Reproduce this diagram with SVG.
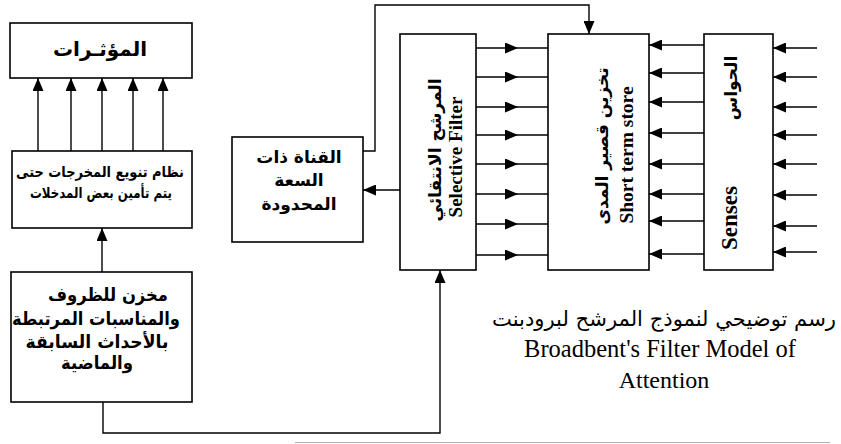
<svg xmlns="http://www.w3.org/2000/svg" width="841" height="444" viewBox="0 0 841 444">
<defs>
<marker id="ah" markerWidth="13" markerHeight="11" refX="13" refY="5.5" orient="auto" markerUnits="userSpaceOnUse">
<path d="M0,0 L13,5.5 L0,11 z" fill="#000"/>
</marker>
</defs>
<style>
.box{fill:#fff;stroke:#000;stroke-width:1.6}
.con{fill:none;stroke:#000;stroke-width:1.4}
.ar{font-family:"DejaVu Sans",sans-serif;font-weight:bold;fill:#000;text-anchor:middle}
.arr{font-family:"DejaVu Sans",sans-serif;fill:#000;text-anchor:middle}
.en{font-family:"Liberation Serif",serif;font-weight:bold;fill:#000;text-anchor:middle}
.cap{font-family:"Liberation Serif",serif;fill:#000;text-anchor:middle}
</style>
<rect width="841" height="444" fill="#fff"/>

<g id="connectors">
<g marker-end="url(#ah)">
<line class="con" x1="38" y1="151" x2="38" y2="78"/>
<line class="con" x1="71" y1="151" x2="71" y2="78"/>
<line class="con" x1="102" y1="151" x2="102" y2="78"/>
<line class="con" x1="133" y1="151" x2="133" y2="78"/>
<line class="con" x1="163" y1="151" x2="163" y2="78"/>
<line class="con" x1="102" y1="272" x2="102" y2="228"/>
<polyline class="con" points="103,402 103,433 440,433 440,270"/>
<line class="con" x1="400" y1="190" x2="363" y2="190"/>
<polyline class="con" points="363,151 375,151 375,5 589,5 589,34"/>
<line class="con" x1="704" y1="45" x2="649" y2="45"/>
<line class="con" x1="704" y1="73" x2="649" y2="73"/>
<line class="con" x1="704" y1="102" x2="649" y2="102"/>
<line class="con" x1="704" y1="133" x2="649" y2="133"/>
<line class="con" x1="704" y1="164" x2="649" y2="164"/>
<line class="con" x1="704" y1="194" x2="649" y2="194"/>
<line class="con" x1="704" y1="221" x2="649" y2="221"/>
<line class="con" x1="704" y1="254" x2="649" y2="254"/>
<line class="con" x1="817" y1="48" x2="773" y2="48"/>
<line class="con" x1="817" y1="77" x2="773" y2="77"/>
<line class="con" x1="817" y1="107" x2="773" y2="107"/>
<line class="con" x1="817" y1="135" x2="773" y2="135"/>
<line class="con" x1="817" y1="164" x2="773" y2="164"/>
<line class="con" x1="817" y1="195" x2="773" y2="195"/>
<line class="con" x1="817" y1="226" x2="773" y2="226"/>
<line class="con" x1="817" y1="252" x2="773" y2="252"/>
</g>
<g marker-mid="url(#ah)">
<polyline class="con" points="476,48 518,48 548,48"/>
<polyline class="con" points="476,77 518,77 548,77"/>
<polyline class="con" points="476,107 518,107 548,107"/>
<polyline class="con" points="476,135 518,135 548,135"/>
<polyline class="con" points="476,164 518,164 548,164"/>
<polyline class="con" points="476,194 518,194 548,194"/>
<polyline class="con" points="476,224 518,224 548,224"/>
<polyline class="con" points="476,255 518,255 548,255"/>
</g>
</g>

<g id="stimuli">
<rect class="box" x="10" y="23" width="182" height="55"/>
<text class="ar" x="100" y="56" font-size="20">المؤثـرات</text>
</g>

<g id="output-system">
<rect class="box" x="12" y="151" width="180" height="77"/>
<text class="ar" x="100" y="177" font-size="15" textLength="168" lengthAdjust="spacingAndGlyphs">نظام تنويع المخرجات حتى</text>
<text class="ar" x="101" y="198" font-size="15" textLength="142" lengthAdjust="spacingAndGlyphs">يتم تأمين بعض المدخلات</text>
</g>

<g id="memory-store">
<rect class="box" x="11" y="272" width="181" height="130"/>
<text class="ar" x="108" y="301" font-size="18" textLength="120" lengthAdjust="spacingAndGlyphs">مخزن للظروف</text>
<text class="ar" x="96" y="325" font-size="18" textLength="168" lengthAdjust="spacingAndGlyphs">والمناسبات المرتبطة</text>
<text class="ar" x="97" y="348" font-size="18" textLength="143" lengthAdjust="spacingAndGlyphs">بالأحداث السابقة</text>
<text class="ar" x="97" y="369" font-size="18" textLength="72" lengthAdjust="spacingAndGlyphs">والماضية</text>
</g>

<g id="limited-channel">
<rect class="box" x="232" y="137" width="131" height="105"/>
<text class="ar" x="299" y="163" font-size="17">القناة ذات</text>
<text class="ar" x="299" y="186" font-size="17">السعة</text>
<text class="ar" x="299" y="210" font-size="17">المحدودة</text>
</g>

<g id="selective-filter">
<rect class="box" x="400" y="34" width="76" height="236"/>
<text class="ar" font-size="17" transform="translate(441,150) rotate(-90)">المرشح الانتقائي</text>
<text class="en" font-size="19" transform="translate(462,157) rotate(-90)">Selective Filter</text>
</g>

<g id="short-term-store">
<rect class="box" x="548" y="34" width="101" height="236"/>
<text class="ar" font-size="17" transform="translate(608,146) rotate(-90)">تخزين قصير المدى</text>
<text class="en" font-size="19.5" transform="translate(633,155) rotate(-90)">Short term store</text>
</g>

<g id="senses">
<rect class="box" x="704" y="34" width="69" height="236"/>
<text class="ar" font-size="17" transform="translate(737,88) rotate(-90)">الحواس</text>
<text class="en" font-size="23" transform="translate(737,218) rotate(-90)">Senses</text>
</g>

<g id="caption">
<text class="arr" x="664" y="326" font-size="21" textLength="344" lengthAdjust="spacingAndGlyphs">رسم توضيحي لنموذج المرشح لبرودبنت</text>
<text class="cap" x="660" y="357" font-size="24.5">Broadbent's Filter Model of</text>
<text class="cap" x="664" y="388" font-size="24">Attention</text>
</g>

<line x1="295" y1="442.5" x2="830" y2="442.5" stroke="#b0b0b0" stroke-width="1"/>
</svg>
